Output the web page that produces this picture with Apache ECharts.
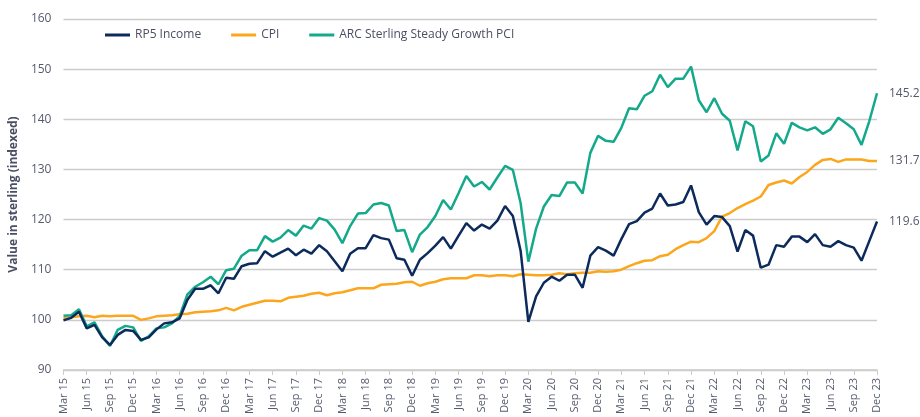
<!DOCTYPE html>
<html>
<head>
<meta charset="utf-8">
<script src="https://cdn.jsdelivr.net/npm/echarts@6/dist/echarts.min.js"></script>
<style>html,body{margin:0;padding:0;background:#fff;}#chart{width:920px;height:417px;}</style>
</head>
<body>
<div id="chart"></div>
<script>
const categories = [
"Mar 15","Apr 15","May 15","Jun 15","Jul 15","Aug 15","Sep 15","Oct 15","Nov 15","Dec 15",
"Jan 16","Feb 16","Mar 16","Apr 16","May 16","Jun 16","Jul 16","Aug 16","Sep 16","Oct 16","Nov 16","Dec 16",
"Jan 17","Feb 17","Mar 17","Apr 17","May 17","Jun 17","Jul 17","Aug 17","Sep 17","Oct 17","Nov 17","Dec 17",
"Jan 18","Feb 18","Mar 18","Apr 18","May 18","Jun 18","Jul 18","Aug 18","Sep 18","Oct 18","Nov 18","Dec 18",
"Jan 19","Feb 19","Mar 19","Apr 19","May 19","Jun 19","Jul 19","Aug 19","Sep 19","Oct 19","Nov 19","Dec 19",
"Jan 20","Feb 20","Mar 20","Apr 20","May 20","Jun 20","Jul 20","Aug 20","Sep 20","Oct 20","Nov 20","Dec 20",
"Jan 21","Feb 21","Mar 21","Apr 21","May 21","Jun 21","Jul 21","Aug 21","Sep 21","Oct 21","Nov 21","Dec 21",
"Jan 22","Feb 22","Mar 22","Apr 22","May 22","Jun 22","Jul 22","Aug 22","Sep 22","Oct 22","Nov 22","Dec 22",
"Jan 23","Feb 23","Mar 23","Apr 23","May 23","Jun 23","Jul 23","Aug 23","Sep 23","Oct 23","Nov 23","Dec 23"
];

const rp5Income = [
99.9,100.4,101.6,98.3,99.0,96.5,95.0,97.0,98.0,97.8,
96.0,96.5,98.1,99.3,99.5,100.3,104.0,106.2,106.2,106.9,105.3,108.4,
108.2,110.7,111.2,111.3,113.7,112.6,113.4,114.2,112.9,114.0,113.2,114.9,
113.7,111.7,109.7,113.2,114.3,114.3,116.9,116.3,116.0,112.3,112.0,108.8,
112.0,113.3,114.8,116.5,114.2,116.8,119.3,117.8,119.0,118.2,119.8,122.7,
120.7,113.8,99.6,104.7,107.4,108.6,107.8,109.0,109.0,106.4,112.8,114.5,
113.8,112.8,116.1,119.1,119.7,121.4,122.2,125.2,122.8,123.0,123.5,126.8,
121.5,119.0,120.7,120.5,118.7,113.6,117.9,116.8,110.4,111.0,114.9,114.6,
116.6,116.6,115.5,117.1,114.9,114.6,115.7,114.9,114.4,111.8,115.7,119.6
];

const cpi = [
100.3,100.5,100.7,100.8,100.5,100.8,100.7,100.8,100.8,100.8,
100.0,100.3,100.7,100.8,100.9,101.1,101.2,101.5,101.6,101.7,101.9,102.4,
101.9,102.6,103.0,103.4,103.8,103.8,103.7,104.4,104.6,104.8,105.2,105.4,
104.9,105.3,105.5,105.9,106.3,106.3,106.3,107.0,107.1,107.2,107.5,107.6,
106.8,107.3,107.6,108.1,108.3,108.3,108.3,108.9,108.9,108.7,108.9,108.9,
108.7,109.1,109.0,108.9,108.9,109.0,109.3,109.1,109.3,109.4,109.4,109.7,
109.6,109.7,110.0,110.7,111.3,111.8,111.9,112.7,113.0,114.1,114.9,115.6,
115.5,116.3,117.7,120.6,121.3,122.3,123.1,123.8,124.6,126.9,127.4,127.8,
127.2,128.5,129.5,130.9,131.9,132.1,131.5,132.0,132.0,132.0,131.7,131.7
];

const arcPci = [
100.8,100.9,102.1,98.7,99.5,96.7,94.8,98.0,98.8,98.5,
95.8,96.7,98.3,98.5,99.3,100.8,105.1,106.6,107.5,108.6,107.1,109.9,
110.2,112.8,113.9,113.9,116.7,115.6,116.4,117.9,116.8,118.8,118.2,120.3,
119.8,118.0,115.3,118.7,121.2,121.3,123.0,123.3,122.8,117.7,117.9,113.5,
117.0,118.5,120.7,123.9,122.0,125.3,128.7,126.6,127.5,126.0,128.4,130.7,
129.9,123.3,111.6,118.2,122.6,124.9,124.7,127.4,127.4,125.2,133.3,136.7,
135.7,135.5,138.3,142.2,142.0,144.7,145.6,148.9,146.4,148.1,148.1,150.5,
143.8,141.4,144.2,141.1,139.7,133.8,139.6,138.6,131.6,132.8,137.2,135.1,
139.3,138.4,137.8,138.4,137.1,138.0,140.3,139.2,138.0,134.9,139.6,145.2
];

const seriesNames = ["RP5 Income", "CPI", "ARC Sterling Steady Growth PCI"];
const seriesColors = ["#0c2a5b", "#fba61c", "#13a98a"];
const seriesData = [rp5Income, cpi, arcPci];

const FONT = "Open Sans";
const chart = echarts.init(document.getElementById('chart'), null, {renderer: 'canvas'});

const option = {
  animation: false,
  backgroundColor: '#ffffff',
  textStyle: {fontFamily: FONT},
  legend: {
    top: 24,
    left: 100,
    itemGap: 30,
    itemWidth: 25,
    itemHeight: 3,
    icon: 'rect',
    textStyle: {fontFamily: FONT, fontSize: 12, color: '#4a4f63'},
    data: seriesNames
  },
  grid: {left: 62, right: 43, top: 19, bottom: 47, containLabel: false},
  xAxis: {
    type: 'category',
    data: categories,
    boundaryGap: false,
    axisLine: {lineStyle: {color: '#cccccc', width: 1.5}},
    axisTick: {show: true, interval: 2, length: 5, lineStyle: {color: '#cccccc'}},
    axisLabel: {interval: 2, rotate: 90, fontSize: 11, color: '#555a6c', fontFamily: FONT, margin: 8},
    splitLine: {show: false}
  },
  yAxis: {
    type: 'value',
    min: 90, max: 160, interval: 10,
    name: 'Value in sterling (indexed)',
    nameLocation: 'middle',
    nameGap: 40,
    nameTextStyle: {fontFamily: FONT, fontSize: 12, fontWeight: 'bold', color: '#4a4f63'},
    axisLine: {show: false},
    axisTick: {show: false},
    axisLabel: {fontSize: 12, color: '#555a6c', fontFamily: FONT, margin: 12},
    splitLine: {lineStyle: {color: '#cccccc', width: 1.3}}
  },
  series: seriesData.map((d, k) => ({
    name: seriesNames[k],
    type: 'line',
    data: d,
    symbol: 'none',
    showSymbol: false,
    lineStyle: {color: seriesColors[k], width: 2.5},
    itemStyle: {color: seriesColors[k]},
    z: k === 0 ? 3 : 2,
    endLabel: {
      show: true,
      formatter: p => p.value.toFixed(1),
      color: '#555a6c',
      fontSize: 12,
      fontFamily: FONT,
      distance: 12
    }
  }))
};
chart.setOption(option);
</script>
</body>
</html>
